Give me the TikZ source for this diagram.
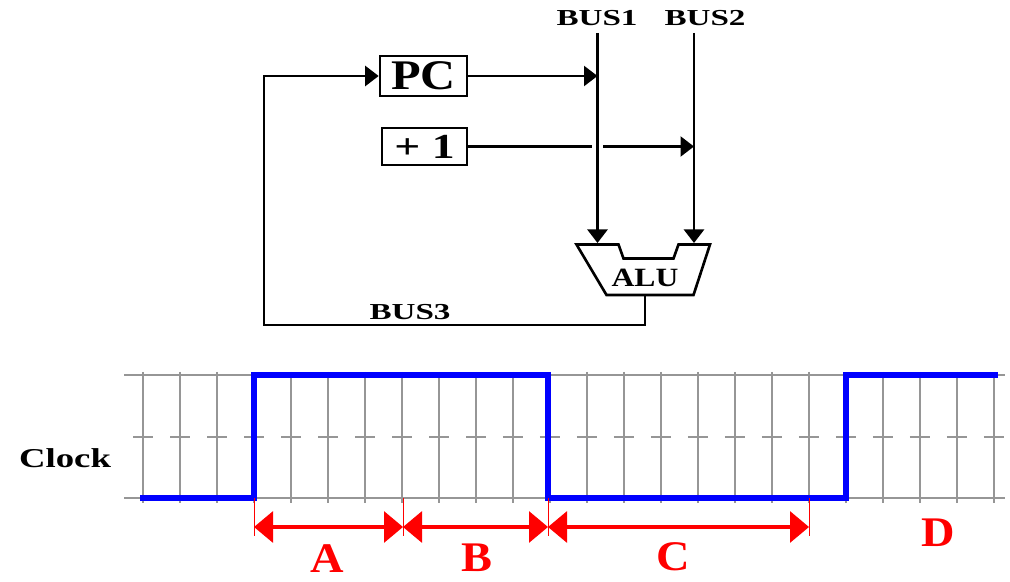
\documentclass[tikz,border=0pt]{standalone}
\usepackage{fontspec}
\setmainfont{Liberation Serif}
\usetikzlibrary{arrows.meta,positioning}
\definecolor{clkblue}{RGB}{0,0,255}
\definecolor{clkred}{RGB}{255,0,0}
\definecolor{gridgray}{RGB}{150,150,150}
\tikzset{
  reg/.style={draw, line width=1.5pt, inner sep=0pt, minimum width=#1, minimum height=0.78cm},
  buslabel/.style={inner sep=0pt, font=\bfseries\fontsize{13}{13}\selectfont\addfontfeatures{FakeStretch=1.45}},
  busline/.style={line width=1.4pt},
  busarrow/.style={-{Triangle[length=0.27cm,width=0.4cm]}, line width=1.4pt},
  gridline/.style={gridgray, line width=0.75pt},
  clk/.style={clkblue, line width=3pt, line join=miter},
  span/.style={{Triangle[length=0.38cm,width=0.62cm]}-{Triangle[length=0.38cm,width=0.62cm]}, clkred, line width=1.8pt},
  spantick/.style={clkred, line width=0.5pt},
  spanlabel/.style={clkred, inner sep=0pt, font=\bfseries\fontsize{24}{24}\selectfont\addfontfeatures{FakeStretch=1.1}},
}
\begin{document}
\begin{tikzpicture}
\useasboundingbox (0,0) rectangle (20.2,-11.64);

% Registers and buses
\node[reg=1.74cm, minimum height=0.8cm, font=\bfseries\fontsize{24}{24}\selectfont\addfontfeatures{FakeStretch=1.15}] (pc) at (8.47,-1.52) {PC};
\node[reg=1.7cm, minimum height=0.74cm, font=\bfseries\fontsize{20}{20}\selectfont\addfontfeatures{FakeStretch=1.3}] (one) at (8.49,-2.93) {+ 1};

\node[buslabel] (bus1lbl) at (11.94,-0.36) {BUS1};
\node[buslabel] (bus2lbl) at (14.1,-0.36) {BUS2};
\coordinate (bus1) at (11.95,-0.66);
\coordinate (bus2) at (13.88,-0.66);
\coordinate (alua) at (11.95,-4.86);
\coordinate (alub) at (13.88,-4.86);

\draw[busarrow] (one.east) -- (one.east -| bus2);
\draw[busarrow, preaction={draw=white, line width=6pt, -}] (bus1) -- (alua);
\draw[busarrow] (bus2) -- (alub);
\draw[busarrow] (pc.east) -- (pc.east -| bus1);

% ALU
\draw[line width=1.5pt, line join=miter] (11.53,-4.89) -- (12.37,-4.89) -- (12.47,-5.17) -- (13.47,-5.17)
  -- (13.57,-4.89) -- (14.2,-4.89) -- (13.87,-5.9) -- (12.13,-5.9) -- cycle;
\node[inner sep=0pt, font=\bfseries\fontsize{15}{15}\selectfont\addfontfeatures{FakeStretch=1.2}] (alu) at (12.9,-5.56) {ALU};
\coordinate (aluo) at (12.9,-5.9);

% Feedback over BUS3
\coordinate (fb) at (5.28,-6.5);
\draw[busarrow] (aluo) |- (fb) |- (pc.west);
\node[buslabel] (bus3lbl) at (8.2,-6.24) {BUS3};

% Clock grid
\draw[gridline] (2.48,-7.5) -- (20.1,-7.5);
\draw[gridline] (2.48,-9.96) -- (20.1,-9.96);
\draw[gridline, dash pattern=on 0.4cm off 0.34cm] (2.66,-8.74) -- (20.1,-8.74);
\foreach \k in {0,...,23}
  \draw[gridline] ({2.86+0.74*\k},-7.44) -- ({2.86+0.74*\k},-10.06);

\node[inner sep=0pt, font=\bfseries\fontsize{15.5}{15.5}\selectfont\addfontfeatures{FakeStretch=1.35}] (clock) at (1.3,-9.16) {Clock};

% Clock signal
\draw[clk] (2.8,-9.96) -- (5.08,-9.96) -- (5.08,-7.5) -- (10.96,-7.5) -- (10.96,-9.96)
  -- (16.92,-9.96) -- (16.92,-7.5) -- (19.96,-7.5);

% Intervals
\coordinate (ta) at (5.08,-10.54);
\coordinate (tb) at (8.06,-10.54);
\coordinate (tc) at (10.96,-10.54);
\coordinate (td) at (16.18,-10.54);
\draw[spantick] (5.08,-9.96) -- (5.08,-10.72);
\draw[spantick] (8.06,-9.96) -- (8.06,-10.72);
\draw[spantick] (10.96,-9.96) -- (10.96,-10.72);
\draw[spantick] (16.18,-9.96) -- (16.18,-10.72);
\draw[span] (ta) -- (tb);
\draw[span] (tb) -- (tc);
\draw[span] (tc) -- (td);

\node[spanlabel] (la) at (6.54,-11.18) {A};
\node[spanlabel] (lb) at (9.54,-11.16) {B};
\node[spanlabel] (lc) at (13.46,-11.14) {C};
\node[spanlabel] (ld) at (18.76,-10.66) {D};

\end{tikzpicture}
\end{document}
